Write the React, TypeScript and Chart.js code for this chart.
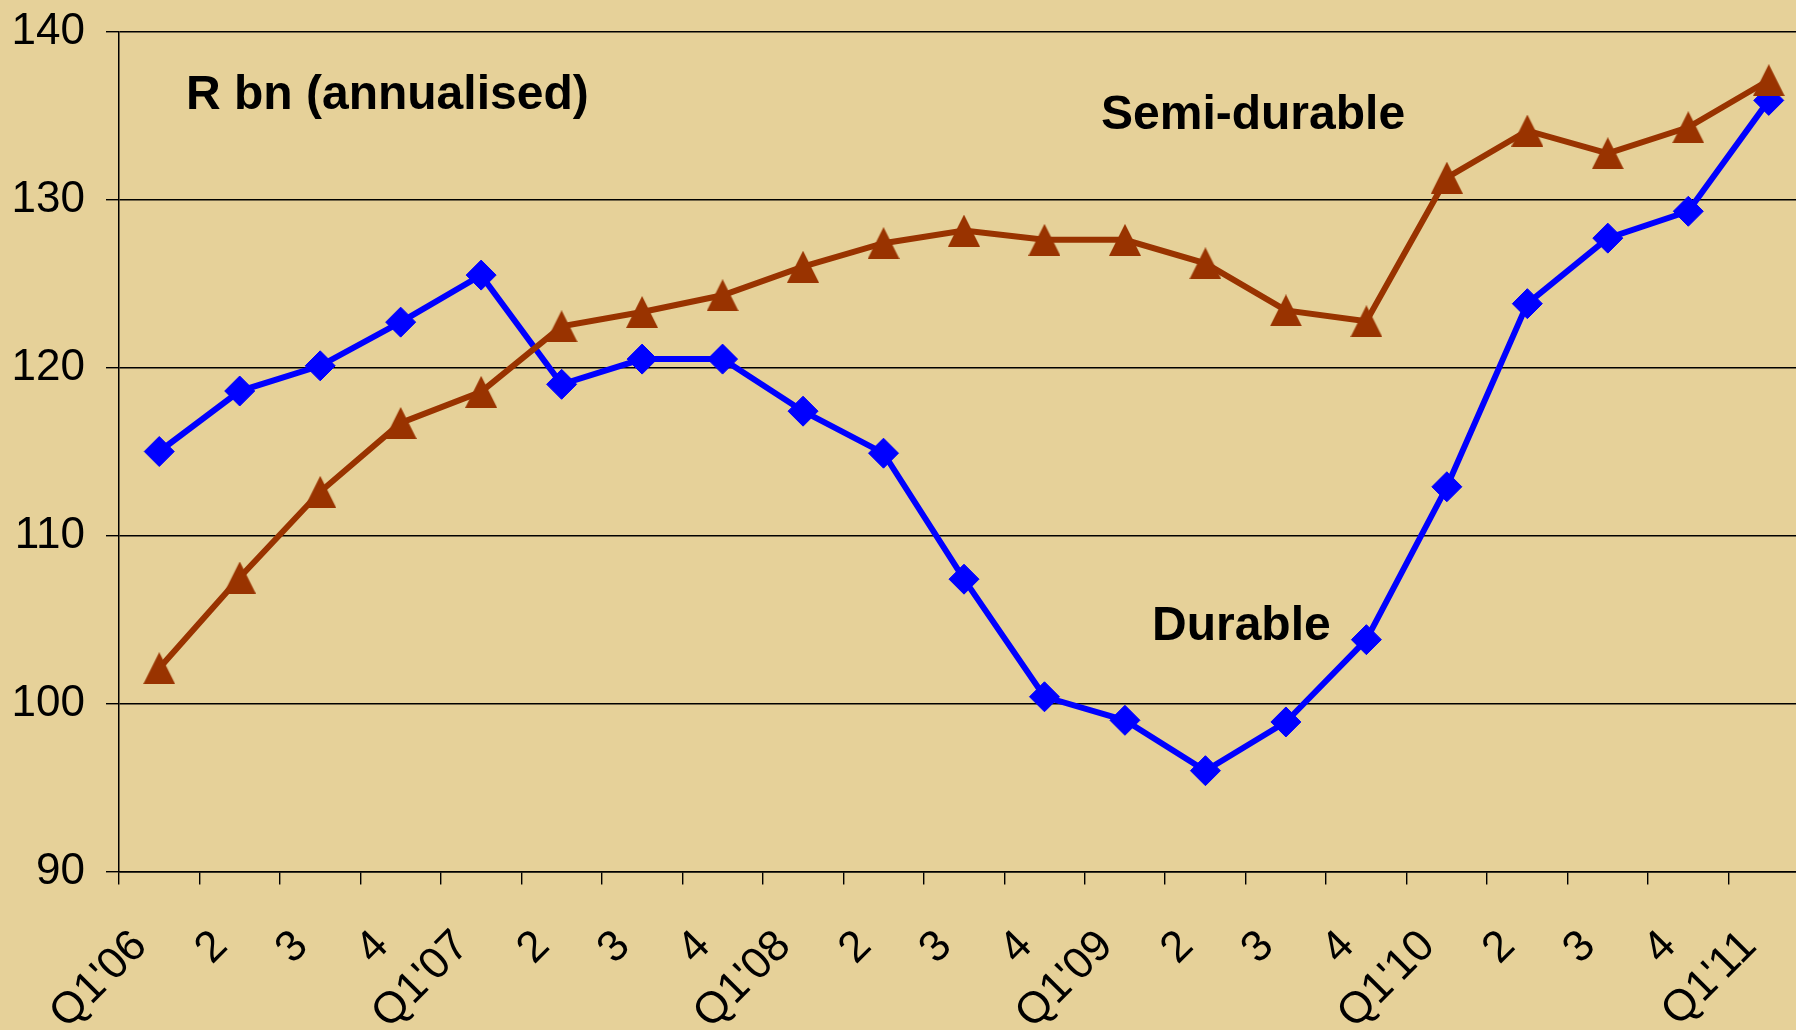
import React, { useEffect, useRef } from "react";
import { Chart, registerables } from "chart.js";

Chart.register(...registerables);

const categories = [
  "Q1'06", "2", "3", "4",
  "Q1'07", "2", "3", "4",
  "Q1'08", "2", "3", "4",
  "Q1'09", "2", "3", "4",
  "Q1'10", "2", "3", "4",
  "Q1'11",
];

const durable = [
  115.0, 118.6, 120.1, 122.7,
  125.5, 119.0, 120.5, 120.5,
  117.4, 114.9, 107.4, 100.4,
  99.0, 96.0, 98.9, 103.8,
  112.9, 123.8, 127.7, 129.3,
  135.9,
];

const semiDurable = [
  102.1, 107.5, 112.6, 116.7,
  118.55, 122.45, 123.3, 124.3,
  126.0, 127.4, 128.15, 127.6,
  127.6, 126.2, 123.4, 122.75,
  131.3, 134.1, 132.75, 134.3,
  137.1,
];

const yTicks = [90, 100, 110, 120, 130, 140];

const annotations = [
  { text: "R bn (annualised)", left: 186, baseline: 109 },
  { text: "Semi-durable", left: 1101, baseline: 129 },
  { text: "Durable", left: 1152, baseline: 640 },
];

const FONT = "'Liberation Sans', Arial, Helvetica, sans-serif";
const BG = "#E6D199";
const BLUE = "#0000FF";
const BROWN = "#993300";

function makeTriangle(w: number, h: number, color: string) {
  const c = document.createElement("canvas");
  c.width = w;
  c.height = h;
  const g = c.getContext("2d")!;
  g.fillStyle = color;
  g.beginPath();
  g.moveTo(w / 2, 0);
  g.lineTo(w, h);
  g.lineTo(0, h);
  g.closePath();
  g.fill();
  return c;
}

export default function App() {
  const ref = useRef<HTMLCanvasElement | null>(null);

  useEffect(() => {
    if (!ref.current) return;
    const tri = makeTriangle(32, 32, BROWN);
    const chart = new Chart(ref.current, {
      type: "line",
      data: {
        labels: categories,
        datasets: [
          {
            label: "Semi-durable",
            data: semiDurable,
            borderColor: BROWN,
            backgroundColor: BROWN,
            borderWidth: 6,
            pointStyle: tri as any,
            pointRadius: 16,
            pointHoverRadius: 16,
            tension: 0,
            fill: false,
          },
          {
            label: "Durable",
            data: durable,
            borderColor: BLUE,
            backgroundColor: BLUE,
            borderWidth: 6,
            pointStyle: "rectRot",
            pointRadius: 15,
            pointHoverRadius: 15,
            pointBorderWidth: 1,
            pointBorderColor: BLUE,
            pointBackgroundColor: BLUE,
            tension: 0,
            fill: false,
          },
        ],
      },
      options: {
        animation: false,
        responsive: false,
        maintainAspectRatio: false,
        events: [],
        layout: { padding: { top: 31.5, left: 0, right: 40, bottom: 0 } },
        plugins: {
          legend: { display: false },
          tooltip: { enabled: false },
          title: { display: false },
        },
        scales: {
          x: {
            type: "category",
            offset: true,
            grid: {
              offset: true,
              drawOnChartArea: false,
              drawTicks: true,
              tickLength: 13,
              color: "#000",
              lineWidth: 1.4,
            },
            border: { display: true, color: "#000", width: 1.5 },
            ticks: {
              autoSkip: false,
              maxRotation: 45,
              minRotation: 45,
              padding: 36,
              labelOffset: -19,
              color: "#000",
              font: { family: FONT, size: 44 },
            },
            afterFit: (s: any) => {
              s.height = 158.5;
            },
          },
          y: {
            type: "linear",
            min: 90,
            max: 140,
            afterBuildTicks: (s: any) => {
              s.ticks = yTicks.map((v) => ({ value: v }));
            },
            ticks: {
              padding: 21,
              color: "#000",
              font: { family: FONT, size: 44, lineHeight: 0.2 },
            },
            grid: {
              color: "#000",
              lineWidth: 1.4,
              drawTicks: true,
              tickLength: 13,
            },
            border: { display: true, color: "#000", width: 1.5 },
            afterFit: (s: any) => {
              s.width = 119;
            },
          },
        },
      },
    });
    return () => chart.destroy();
  }, []);

  return (
    <div
      style={{
        position: "fixed",
        left: 0,
        top: 0,
        width: 1796,
        height: 1030,
        overflow: "hidden",
        background: BG,
      }}
    >
      <canvas
        ref={ref}
        width={1849}
        height={1030}
        style={{ position: "absolute", left: 0, top: 0, width: 1849, height: 1030 }}
      />
      {annotations.map((a) => (
        <div
          key={a.text}
          style={{
            position: "absolute",
            left: a.left,
            top: a.baseline - 40.5,
            fontFamily: FONT,
            fontWeight: "bold",
            fontSize: 48,
            lineHeight: "48px",
            color: "#000",
            whiteSpace: "nowrap",
          }}
        >
          {a.text}
        </div>
      ))}
    </div>
  );
}
